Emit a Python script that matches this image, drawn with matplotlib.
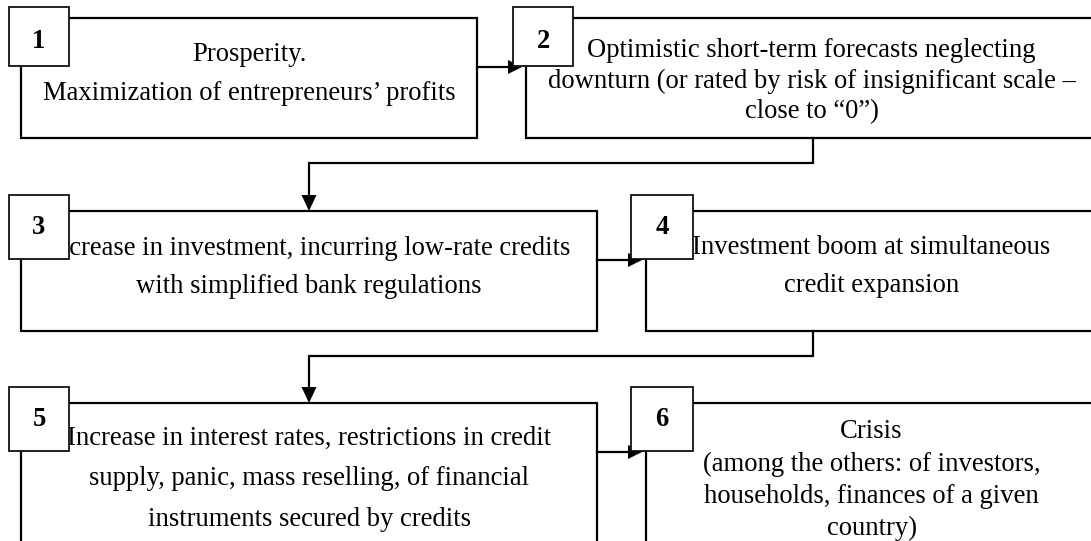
import matplotlib.pyplot as plt
from matplotlib.patches import Rectangle, Polygon

# step numbers and the text of each step (one entry per line)
steps = [1, 2, 3, 4, 5, 6]
step_text = [
    ["Prosperity.", "Maximization of entrepreneurs\u2019 profits"],
    ["Optimistic short-term forecasts neglecting",
     "downturn (or rated by risk of insignificant scale \u2013",
     "close to \u201c0\u201d)"],
    ["Increase in investment, incurring low-rate credits",
     "with simplified bank regulations"],
    ["Investment boom at simultaneous", "credit expansion"],
    ["Increase in interest rates, restrictions in credit",
     "supply, panic, mass reselling, of financial",
     "instruments secured by credits"],
    ["Crisis", "(among the others: of investors,",
     "households, finances of a given", "country)"],
]

# layout in pixels (x right, y down)
box_x = [(21, 477), (526, 1097), (21, 597), (646, 1097), (21, 597), (646, 1097)]
box_y = [(18, 138), (18, 138), (211, 331), (211, 331), (403, 570), (403, 570)]
sq_x = [(9, 69), (513, 573), (9, 69), (631, 693), (9, 69), (631, 693)]
sq_y = [(7, 66), (7, 66), (195, 259), (195, 259), (387, 451), (387, 451)]
num_y = [41, 41, 228, 228, 420, 420]
base_y = [[61, 100], [57, 88, 118], [255, 293], [254, 292],
          [445, 485, 526], [438, 471, 503, 535]]

font = 'Liberation Serif'
fs = 19.2

fig = plt.figure(figsize=(10.91, 5.41), dpi=100)
ax = fig.add_axes([0, 0, 1, 1])
ax.set_xlim(0, 1091)
ax.set_ylim(541, 0)
ax.axis('off')


def head(tip, direction, length=14, half=7):
    x, y = tip
    if direction == 'right':
        pts = [(x, y), (x - length, y - half), (x - length, y + half)]
    else:
        pts = [(x, y), (x - half, y - length), (x + half, y - length)]
    ax.add_patch(Polygon(pts, closed=True, color='k', lw=0, zorder=3))


for i in range(6):
    x0, x1 = box_x[i]
    y0, y1 = box_y[i]
    ax.add_patch(Rectangle((x0, y0), x1 - x0, y1 - y0, fill=False,
                           ec='k', lw=1.6, zorder=1))
    cx = (x0 + x1) / 2
    for line, by in zip(step_text[i], base_y[i]):
        ax.text(cx, by, line, ha='center', va='baseline', fontsize=fs,
                family=font, color='k', zorder=2)
    sx0, sx1 = sq_x[i]
    sy0, sy1 = sq_y[i]
    ax.add_patch(Rectangle((sx0, sy0), sx1 - sx0, sy1 - sy0, fc='white',
                           ec='#111111', lw=1.3, zorder=4))
    ax.text((sx0 + sx1) / 2, num_y[i], str(steps[i]), ha='center',
            va='center', fontsize=fs, family=font, weight='bold', zorder=5)

# horizontal arrows between the pairs of each row
for left, right in [(0, 1), (2, 3), (4, 5)]:
    y = sq_y[left][1] + 1
    tip = box_x[right][0] - 4
    ax.plot([box_x[left][1], tip - 10], [y, y], color='k', lw=1.6, zorder=2)
    head((tip, y), 'right')

# elbow connectors from the right box down to the next row
for upper, lower, ymid in [(1, 2, 163), (3, 4, 356)]:
    xs = [813, 813, 309, 309]
    ys = [box_y[upper][1], ymid, ymid, box_y[lower][0] - 12]
    ax.plot(xs, ys, color='k', lw=1.6, zorder=2, solid_joinstyle='miter')
    head((309, box_y[lower][0]), 'down', length=16, half=7.5)

fig.savefig('out.png', dpi=100)
